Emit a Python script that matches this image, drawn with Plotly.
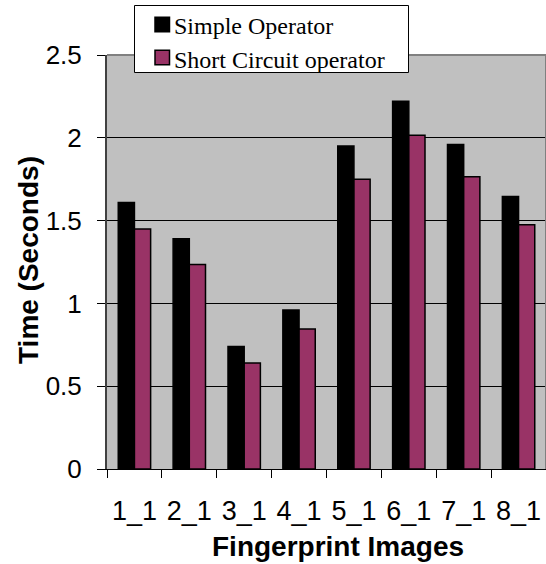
import plotly.graph_objects as go

# Timing results per fingerprint image
images = ["1_1", "2_1", "3_1", "4_1", "5_1", "6_1", "7_1", "8_1"]
simple_operator = [1.61, 1.39, 0.74, 0.96, 1.95, 2.22, 1.96, 1.645]
short_circuit = [1.45, 1.235, 0.64, 0.845, 1.75, 2.015, 1.765, 1.475]
series_names = ["Simple Operator", "Short Circuit operator"]
series_colors = ["#000000", "#993366"]

W, H = 546, 564
ML, MR, MT, MB = 107, 0, 55, 95
PW, PH = W - ML - MR, H - MT - MB


def px_x(px):
    """Convert a horizontal pixel position to paper coordinates."""
    return (px - ML) / PW


def px_y(py):
    """Convert a vertical pixel position (from top) to paper coordinates."""
    return (H - MB - py) / PH


fig = go.Figure()
for name, vals, col in zip(series_names, [simple_operator, short_circuit], series_colors):
    fig.add_bar(
        x=images, y=vals, name=name,
        marker=dict(color=col, line=dict(color="#000000", width=1.5)),
    )

sans = "Liberation Sans, Arial, sans-serif"
serif = "Liberation Serif, Times New Roman, serif"

# Boxed key in the top-left corner, overlapping the plot area
shapes = [
    dict(type="path", xref="paper", yref="paper",
         path="M 0,1 L 1,1 L 1,0",
         line=dict(color="#808080", width=2), layer="above"),
    dict(type="rect", xref="paper", yref="paper",
         x0=px_x(134.5), x1=px_x(408.5), y0=px_y(72.5), y1=px_y(5.5),
         fillcolor="#FFFFFF", line=dict(color="#000000", width=1), layer="above"),
]
annotations = []
row_centers = [24.5, 57.5]
for name, col, cy in zip(series_names, series_colors, row_centers):
    shapes.append(dict(
        type="rect", xref="paper", yref="paper",
        x0=px_x(155), x1=px_x(169.5), y0=px_y(cy + 7.25), y1=px_y(cy - 7.25),
        fillcolor=col, line=dict(color="#000000", width=1.5), layer="above"))
    annotations.append(dict(
        text=name, xref="paper", yref="paper",
        x=px_x(172), y=px_y(cy + 2), xanchor="left", yanchor="middle",
        showarrow=False, font=dict(family=serif, size=24, color="#000000")))

annotations += [
    dict(text="<b>Fingerprint Images</b>", xref="paper", yref="paper",
         x=px_x(338), y=px_y(546),
         xanchor="center", yanchor="middle", showarrow=False,
         font=dict(family=sans, size=28, color="#000000")),
    dict(text="<b>Time (Seconds)</b>", xref="paper", yref="paper",
         x=px_x(28), y=px_y(260),
         xanchor="center", yanchor="middle", textangle=-90, showarrow=False,
         font=dict(family=sans, size=28, color="#000000")),
]

fig.update_layout(
    width=W, height=H,
    margin=dict(l=ML, r=MR, t=MT, b=MB, pad=0, autoexpand=False),
    paper_bgcolor="#FFFFFF",
    plot_bgcolor="#C0C0C0",
    barmode="group",
    bargap=0.41,
    bargroupgap=0,
    showlegend=False,
    xaxis=dict(
        type="category",
        tickson="boundaries",
        ticks="outside", ticklen=8, tickwidth=1, tickcolor="#000000",
        showline=True, linecolor="#000000", linewidth=1,
        showgrid=False, zeroline=False,
        tickangle=0,
        tickfont=dict(family=sans, size=27, color="#000000"),
        ticklabelstandoff=18,
    ),
    yaxis=dict(
        range=[0, 2.5], dtick=0.5, tick0=0,
        ticks="outside", ticklen=8, tickwidth=1, tickcolor="#000000",
        showline=True, linecolor="#404040", linewidth=2,
        showgrid=True, gridcolor="#000000", gridwidth=1,
        zeroline=False,
        tickfont=dict(family=sans, size=26, color="#000000"),
        ticklabelstandoff=10,
    ),
    shapes=shapes,
    annotations=annotations,
)

fig.write_html("out.html")
